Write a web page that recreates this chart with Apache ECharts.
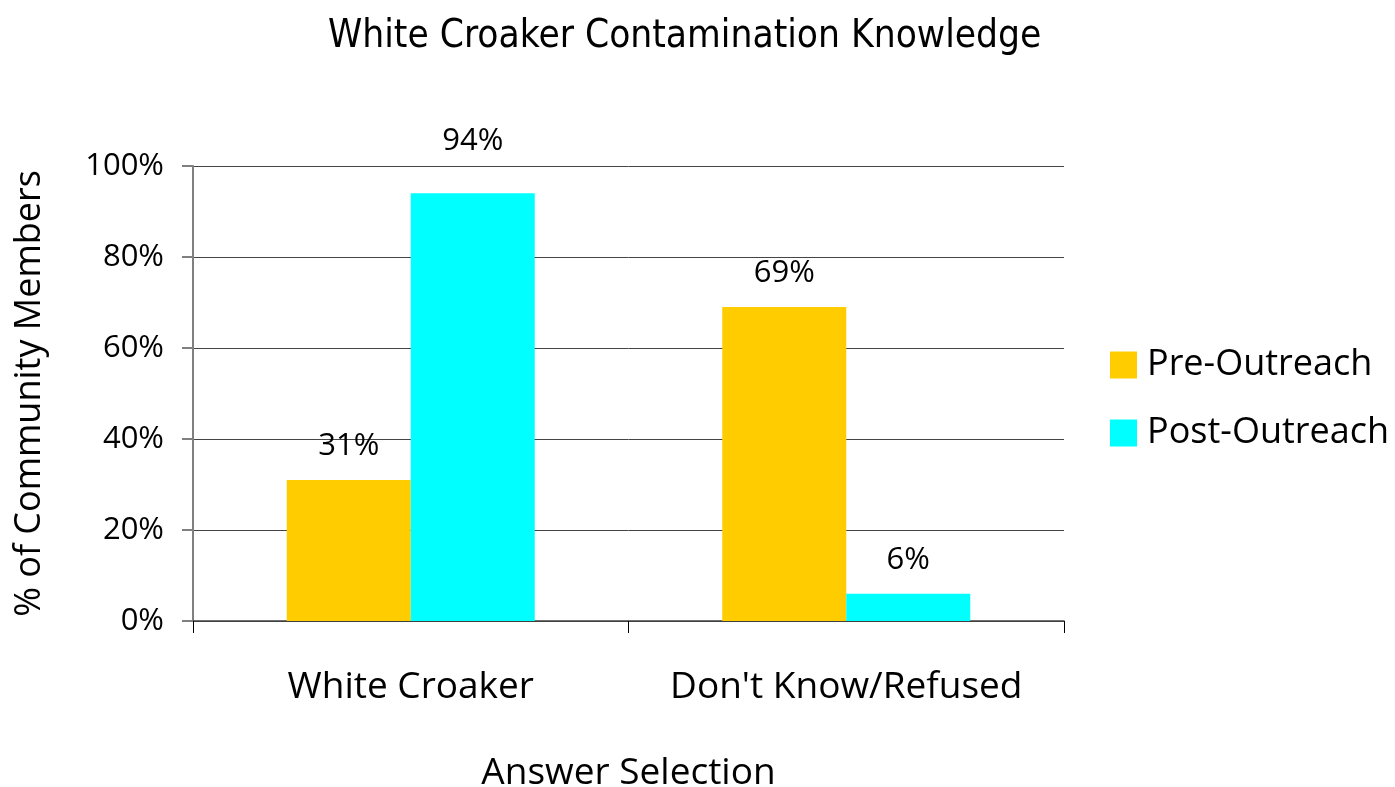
<!DOCTYPE html>
<html>
<head>
<meta charset="utf-8">
<script src="https://cdn.jsdelivr.net/npm/echarts@6/dist/echarts.min.js"></script>
<style>html,body{margin:0;padding:0;background:#fff;overflow:hidden}#c{width:1395px;height:787px}</style>
</head>
<body>
<div id="c"></div>
<script>
const categories = ["White Croaker", "Don't Know/Refused"];
const seriesNames = ["Pre-Outreach", "Post-Outreach"];
const preValues = [31, 69];
const postValues = [94, 6];
const yTicks = [0, 20, 40, 60, 80, 100];

const FONT = "'Open Sans', 'DejaVu Sans', sans-serif";
const chart = echarts.init(document.getElementById('c'));
const lbl = {show: true, position: 'top', distance: 18, formatter: p => p.value + '%', color: '#000', fontFamily: FONT, fontSize: 31};
chart.setOption({
  animation: false,
  title: {text: 'White Croaker Contamination Knowledge', left: 323, top: 12,
    textStyle: {fontFamily: "'DejaVu Sans Condensed', 'DejaVu Sans', sans-serif", fontWeight: 'normal', fontSize: 38.5, color: '#000'}},
  legend: {orient: 'vertical', left: 1105, top: 342, itemWidth: 27, itemHeight: 27, itemGap: 32, icon: 'rect',
    textStyle: {fontFamily: FONT, fontSize: 36, lineHeight: 36, color: '#000', padding: [0, 0, 0, 5]}, data: seriesNames},
  grid: {left: 193, width: 871, top: 166, height: 455, containLabel: false, outerBoundsMode: 'none'},
  xAxis: {type: 'category', data: categories, name: 'Answer Selection', nameLocation: 'middle', nameGap: 134,
    nameTextStyle: {fontFamily: FONT, fontSize: 37, color: '#000'},
    axisLine: {lineStyle: {color: '#404040', width: 1.5}},
    axisTick: {show: true, length: 12, lineStyle: {color: '#000'}},
    axisLabel: {fontFamily: FONT, fontSize: 37, color: '#000', margin: 48, interval: 0, hideOverlap: false}},
  yAxis: {type: 'value', min: 0, max: 100, interval: 20, name: '% of Community Members', nameLocation: 'middle', nameGap: 145,
    nameTextStyle: {fontFamily: FONT, fontSize: 36, color: '#000'},
    axisLine: {show: true, lineStyle: {color: '#808080', width: 2}},
    axisTick: {show: true, length: 11, lineStyle: {color: '#808080', width: 2}},
    axisLabel: {fontFamily: FONT, fontSize: 31, color: '#000', margin: 29, formatter: v => yTicks.includes(v) ? v + '%' : ''},
    splitLine: {lineStyle: {color: '#444', width: 1}}},
  series: [
    {name: seriesNames[0], type: 'bar', data: preValues, barWidth: 124, barGap: '0%', itemStyle: {color: '#FFCC00'}, label: lbl},
    {name: seriesNames[1], type: 'bar', data: postValues.map((v, i) => i === 0 ? {value: v, label: {distance: 37}} : v), barWidth: 124, itemStyle: {color: '#00FFFF'}, label: lbl}
  ]
});
</script>
</body>
</html>
